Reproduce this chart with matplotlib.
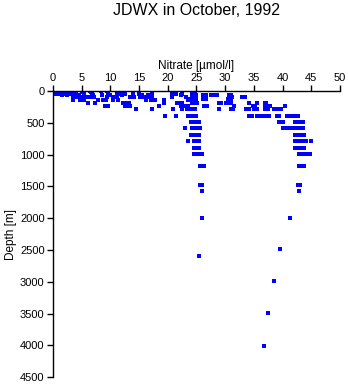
import matplotlib
matplotlib.use("Agg")
import matplotlib.pyplot as plt

plt.rcParams['font.family'] = ['Liberation Sans', 'DejaVu Sans']

title = "JDWX in October, 1992"
xlabel = "Nitrate [\u00b5mol/l]"
ylabel = "Depth [m]"
xticks = [0, 5, 10, 15, 20, 25, 30, 35, 40, 45, 50]
yticks = [0, 500, 1000, 1500, 2000, 2500, 3000, 3500, 4000, 4500]

# nitrate values observed at each depth level
levels = {
    0: [0.2, 0.5, 0.8, 1.1, 1.4, 1.7, 2.0, 2.3, 2.6, 3.0, 3.4, 5.0, 5.3, 6.5, 8.4, 9.5],
    20: [0.3, 0.7, 1.0, 1.5, 2.0, 2.5, 3.0, 3.5, 4.0, 5.2, 6.6],
    40: [0.5, 1.2, 2.0, 2.8, 3.5, 4.0, 5.5, 6.8, 9.6, 11.2, 11.8, 12.6, 13.9, 15.0, 17.3,
         20.8, 21.5, 22.4, 24.2, 24.8],
    60: [1.5, 2.5, 3.5, 4.5, 5.5, 7.0, 8.5, 10.0, 12.0, 15.5, 16.5, 22.3, 24.5, 25.0, 26.2,
         26.6, 27.6, 28.2, 28.6, 30.6, 31.1],
    100: [3.5, 4.0, 4.6, 5.3, 5.7, 6.5, 7.2, 9.5, 10.5, 11.2, 13.5, 14.2, 15.2, 15.8, 16.5,
          17.2, 20.7, 23.2, 24.2, 25.0, 30.9, 31.2, 32.9, 33.5],
    120: [23.5, 23.9, 24.5, 25.0, 26.2, 26.6, 30.5, 31.0],
    135: [3.5, 4.8, 5.5, 7.8, 8.8, 9.2, 10.5, 11.3, 16.3, 17.0, 17.8, 19.3, 23.5, 24.0],
    188: [6.2, 7.4, 12.2, 12.6, 13.2, 19.3, 21.6, 22.2, 22.4, 24.3, 24.8, 25.1, 28.9, 29.3,
          30.2, 30.6, 31.0, 34.1, 35.5, 36.9, 37.1],
    230: [9.0, 9.6, 12.5, 13.0, 13.5, 18.5, 22.3, 22.8, 23.0, 23.5, 26.3, 26.8, 31.6, 34.9,
          35.2, 36.9, 37.4, 37.8, 40.5],
    282: [14.4, 17.3, 21.0, 22.5, 23.3, 23.8, 24.2, 24.8, 28.9, 31.0, 31.4, 33.7, 34.2, 35.0,
          35.5, 36.9, 37.5, 38.5, 39.2, 39.8],
    388: [19.6, 21.4, 23.6, 24.0, 24.5, 25.0, 34.2, 34.7, 35.6, 36.0, 36.5, 37.0, 37.6, 39.1,
          39.4, 40.8, 41.3, 41.8, 42.3, 42.7],
    488: [24.0, 24.5, 25.0, 25.4, 39.4, 40.0, 42.1, 42.6, 43.0, 43.4, 43.6],
    583: [23.0, 24.2, 24.7, 25.2, 25.6, 40.1, 40.6, 41.2, 41.7, 42.2, 42.7, 43.2, 43.6],
    690: [24.0, 24.5, 25.0, 25.4, 42.1, 42.5, 43.0, 43.4, 43.8],
    790: [23.6, 24.6, 25.0, 25.4, 42.2, 42.7, 43.2, 43.7, 44.0, 45.0],
    890: [24.6, 25.0, 25.4, 42.2, 42.6, 43.3, 43.8],
    990: [24.6, 25.0, 25.5, 25.9, 42.8, 43.3, 43.8, 44.3, 44.7],
    1186: [25.6, 26.0, 26.4, 42.8, 43.3, 43.8],
    1482: [25.6, 26.0, 42.6, 43.0],
    1577: [26.0, 42.9],
    1990: [26.0, 41.3],
    2490: [39.5],
    2590: [25.5],
    2987: [38.5],
    3490: [37.4],
    4012: [36.7],
}

nitrate = [v for d, vals in levels.items() for v in vals]
depth = [d for d, vals in levels.items() for v in vals]

fig = plt.figure(figsize=(3.48, 3.84), dpi=100)
ax = fig.add_axes([0.152, 0.018, 0.825, 0.745])
ax.plot(nitrate, depth, linestyle='none', marker='s', markersize=2.4,
        color='#0000ff', markeredgewidth=0, antialiased=False)

ax.set_xlim(0, 50)
ax.set_ylim(4500, 0)
ax.set_xticks(xticks)
ax.set_yticks(yticks)
ax.xaxis.tick_top()
ax.xaxis.set_label_position('top')
ax.spines['right'].set_visible(False)
ax.spines['bottom'].set_visible(False)
for s in ('left', 'top'):
    ax.spines[s].set_linewidth(1.0)
ax.tick_params(axis='both', direction='out', length=4, width=1.0, labelsize=8, pad=2)
ax.set_xlabel(xlabel, fontsize=8.5, labelpad=3)
ax.set_ylabel(ylabel, fontsize=8.5, labelpad=2)
fig.text(0.565, 0.972, title, ha='center', va='center', fontsize=11.5)

fig.savefig("out.png", dpi=100)
